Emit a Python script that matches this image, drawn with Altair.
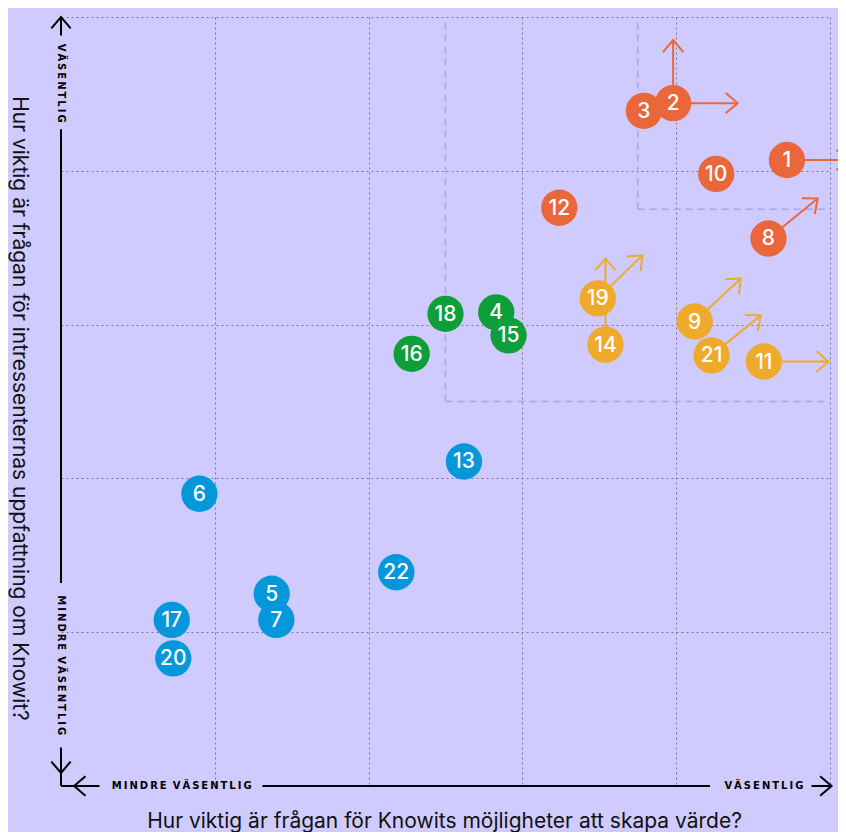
import math
import altair as alt
import pandas as pd

# ---- data (axis range 0..5) ----
ids = ["1", "3", "2", "10", "12", "8", "19", "14", "9", "21", "11",
       "18", "4", "15", "16",
       "13", "6", "22", "5", "7", "17", "20"]
xs = [4.72, 3.79, 3.98, 4.26, 3.24, 4.60, 3.49, 3.54, 4.12, 4.23, 4.57,
      2.50, 2.83, 2.91, 2.28,
      2.62, 0.90, 2.18, 1.37, 1.40, 0.72, 0.73]
ys = [4.07, 4.39, 4.44, 3.98, 3.76, 3.56, 3.17, 2.87, 3.02, 2.80, 2.76,
      3.07, 3.08, 2.93, 2.81,
      2.11, 1.90, 1.39, 1.25, 1.08, 1.08, 0.83]
groups = ["orange"] * 6 + ["yellow"] * 5 + ["green"] * 4 + ["blue"] * 7

# arrows: from a point to an end position
arrow_ids = ["2", "2", "1", "8", "19", "14", "9", "21", "11"]
arrow_x_end = [3.98, 4.40, 5.12, 4.92, 3.78, 3.54, 4.42, 4.55, 4.99]
arrow_y_end = [4.85, 4.44, 4.07, 3.82, 3.45, 3.43, 3.30, 3.06, 2.76]

# axis decorations (data units)
axis_seg_start = [4.88, 1.32, 0.00]
axis_seg_end = [5.00, 4.27, 0.25]
axis_hseg_start = [0.00, 1.31, 4.88]
axis_hseg_end = [0.25, 4.22, 5.01]
TS = "\u2009"
axis_label_text = [TS.join("VÄSENTLIG"),
                   TS.join("MINDRE") + TS * 3 + TS.join("VÄSENTLIG")]
axis_label_pos = [4.57, 0.785]

# dashed highlight boxes (lower-left corner, extend to 5)
box_corner = [2.5, 3.75]

grid_values = [1, 2, 3, 4, 5]

x_title = "Hur viktig är frågan för Knowits möjligheter att skapa värde?"
y_title = "Hur viktig är frågan för intressenternas uppfattning om Knowit?"

group_domain = ["orange", "yellow", "green", "blue"]
group_range = ["#e9673a", "#efa92b", "#0f9f3a", "#0497da"]

BG = "#d0cbfe"
FONT = "Inter"
CHEVRON = "M-1,-0.85L0,0L-1,0.85"

# ---- tables ----
pts = pd.DataFrame({"id": ids, "x": xs, "y": ys, "group": groups})
lookup = {i: (x, y, g) for i, x, y, g in zip(ids, xs, ys, groups)}

arr_rows = []
for i, xe, ye in zip(arrow_ids, arrow_x_end, arrow_y_end):
    x0, y0, g = lookup[i]
    ang = (-math.degrees(math.atan2(ye - y0, xe - x0))) % 360
    arr_rows.append({"x": x0, "y": y0, "x2": xe, "y2": ye, "group": g, "ang": ang})
arrows = pd.DataFrame(arr_rows)

axis_rows = []
for a, b in zip(axis_seg_start, axis_seg_end):
    axis_rows.append({"x": 0.0, "x2": 0.0, "y": a, "y2": b})
for a, b in zip(axis_hseg_start, axis_hseg_end):
    axis_rows.append({"x": a, "x2": b, "y": 0.0, "y2": 0.0})
axis_lines = pd.DataFrame(axis_rows)

axis_heads = pd.DataFrame({
    "x": [0.0, 0.0, 0.085, 5.01],
    "y": [5.0, 0.085, 0.0, 0.0],
    "ang": [270, 90, 180, 0],
})

vlabels = pd.DataFrame({"x": [0.0, 0.0], "y": axis_label_pos, "t": axis_label_text})
hlabels = pd.DataFrame({"x": axis_label_pos, "y": [0.0, 0.0], "t": axis_label_text})

box_rows = []
for c in box_corner:
    box_rows.append({"x": c, "x2": c, "y": c, "y2": 5.0})
    box_rows.append({"x": c, "x2": 5.0, "y": c, "y2": c})
boxes = pd.DataFrame(box_rows)

# ---- scales ----
xs_scale = alt.Scale(domain=[0, 5], nice=False, zero=False)
ys_scale = alt.Scale(domain=[0, 5], nice=False, zero=False)
col_scale = alt.Scale(domain=group_domain, range=group_range)

x_axis = alt.Axis(values=grid_values, grid=True, gridDash=[2, 3], gridColor="#7a7990",
                  gridWidth=1, domain=False, ticks=False, labels=False,
                  title=x_title, titleFont=FONT, titleFontSize=21, titleFontWeight="normal",
                  titleColor="#111111", titleX=383, titleY=41, titleAlign="center",
                  titleBaseline="alphabetic")
y_axis = alt.Axis(values=grid_values, grid=True, gridDash=[2, 3], gridColor="#7a7990",
                  gridWidth=1, domain=False, ticks=False, labels=False,
                  title=y_title, titleFont=FONT, titleFontSize=21, titleFontWeight="normal",
                  titleColor="#111111", titleAngle=90, titleX=-49, titleY=391,
                  titleAlign="center", titleBaseline="alphabetic")

box_layer = alt.Chart(boxes).mark_rule(color="#a6a2f6", strokeWidth=1.5, strokeDash=[7, 5]).encode(
    x=alt.X("x:Q", scale=xs_scale, axis=x_axis),
    y=alt.Y("y:Q", scale=ys_scale, axis=y_axis),
    x2="x2:Q", y2="y2:Q",
)

axis_line_layer = alt.Chart(axis_lines).mark_rule(color="#000000", strokeWidth=2).encode(
    x=alt.X("x:Q", scale=xs_scale), y=alt.Y("y:Q", scale=ys_scale), x2="x2:Q", y2="y2:Q"
)

axis_head_layer = alt.Chart(axis_heads).mark_point(
    shape=CHEVRON, filled=False, size=520, strokeWidth=2, color="#000000", opacity=1
).encode(
    x=alt.X("x:Q", scale=xs_scale), y=alt.Y("y:Q", scale=ys_scale),
    angle=alt.Angle("ang:Q", scale=None),
)

LABEL_FONT = "DejaVu Sans"
vlabel_layer = alt.Chart(vlabels).mark_text(
    angle=90, font=LABEL_FONT, fontSize=10, fontWeight="bold", color="#000000",
    align="center", baseline="middle"
).encode(x=alt.X("x:Q", scale=xs_scale), y=alt.Y("y:Q", scale=ys_scale), text="t:N")

hlabel_layer = alt.Chart(hlabels).mark_text(
    font=LABEL_FONT, fontSize=10, fontWeight="bold", color="#000000",
    align="center", baseline="middle"
).encode(x=alt.X("x:Q", scale=xs_scale), y=alt.Y("y:Q", scale=ys_scale), text="t:N")

arrow_line_layer = alt.Chart(arrows).mark_rule(strokeWidth=2).encode(
    x=alt.X("x:Q", scale=xs_scale), y=alt.Y("y:Q", scale=ys_scale), x2="x2:Q", y2="y2:Q",
    color=alt.Color("group:N", scale=col_scale, legend=None),
)

arrow_head_layer = alt.Chart(arrows).mark_point(
    shape=CHEVRON, filled=False, size=576, strokeWidth=2, opacity=1
).encode(
    x=alt.X("x2:Q", scale=xs_scale), y=alt.Y("y2:Q", scale=ys_scale),
    angle=alt.Angle("ang:Q", scale=None),
    color=alt.Color("group:N", scale=col_scale, legend=None),
)

circle_layer = alt.Chart(pts).mark_circle(size=1320, opacity=1).encode(
    x=alt.X("x:Q", scale=xs_scale), y=alt.Y("y:Q", scale=ys_scale),
    color=alt.Color("group:N", scale=col_scale, legend=None),
)

num_layer = alt.Chart(pts).mark_text(
    font=FONT, fontSize=21, fontWeight=500, color="#ffffff", align="center",
    baseline="middle", dy=1
).encode(x=alt.X("x:Q", scale=xs_scale), y=alt.Y("y:Q", scale=ys_scale), text="id:N")

chart = alt.layer(
    box_layer, axis_line_layer, axis_head_layer, vlabel_layer, hlabel_layer,
    arrow_line_layer, arrow_head_layer, circle_layer, num_layer
).properties(
    width=769, height=769,
    autosize=alt.AutoSizeParams(type="none"),
    padding={"left": 53, "top": 9, "right": 8, "bottom": 46},
).configure(background=BG).configure_view(stroke=None)

chart.save("out.html", embed_options={"renderer": "svg", "actions": False})
